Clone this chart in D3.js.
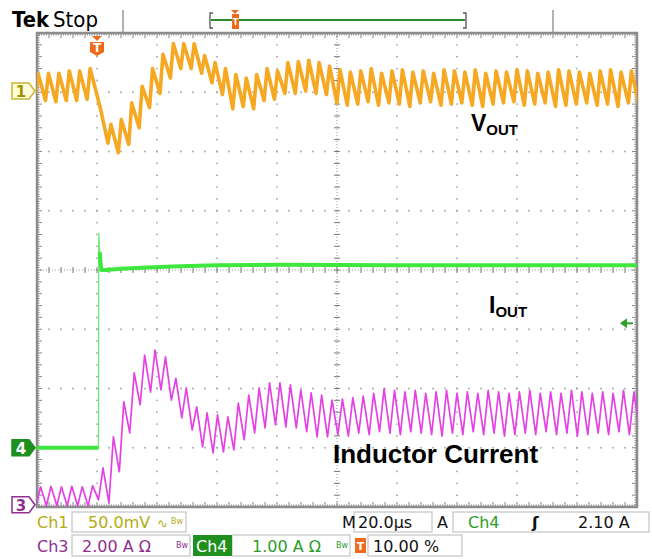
<!DOCTYPE html>
<html lang="en">
<head>
<meta charset="UTF-8">
<script src="https://d3js.org/d3.v7.min.js"></script>
<title>Load step - scope capture</title>
<style>
  body { margin: 0; background: #fff; }
  svg { display: block; }
</style>
</head>
<body>
<div id="scope"></div>
<script>
// Vout ripple, one entry per switching cycle (mV from the ch1 marker)
var vPeriod = 3.47;   // us
var vFirstPeak = -2.3 - 6 * 3.47;
var vPeak = [15,15,15,15,17,17,19,-15,-28,-24,-10,4,19,31,40,40,40,30,24,19,14,11,14,19,17,24,25,26,24,21,
             18,16,17,19,15,17,18,16,17,15,18,17,16,18,15,17,16,18,17,15,16,18,17,16,15,17,18,16,17,16];
var vTrough = [-8,-8,-8,-9,-8,-8,-7,-5,-44,-52,-45,-31,-14,-2,11,19,19,15,7,-3,-15,-13,-15,-8,-7,-2,-2,0,-2,-3,
               -10,-12,-11,-9,-12,-10,-11,-13,-10,-9,-12,-11,-10,-12,-13,-11,-10,-9,-12,-11,-10,-13,-12,-11,-10,-12,-11,-13,-10,-11];

// inductor current, per cycle (A)
var iFirstPeak = 2.0 - 7 * 3.47;
var iPeak = [0.64,0.64,0.66,0.64,0.66,0.64,0.68,1.28,2.33,3.51,4.49,5.09,5.26,5.03,4.3,3.98,3.34,3.14,3.07,3.0,3.47,3.74,3.98,4.15,4.15,4.08,3.91,3.81,3.74,3.57,
             3.6,3.65,3.7,3.8,3.95,3.9,3.85,3.9,3.8,3.85,3.9,3.8,3.85,3.8,3.9,3.85,3.8,3.85,3.9,3.8,3.85,3.8,3.9,3.85,3.8,3.85,3.8,3.9,3.85,3.8];
var iTrough = [0,0,0,0,0,0,0,0.2,0.1,1.15,2.46,3.41,3.84,3.91,3.57,2.97,2.56,1.99,1.79,1.82,1.89,2.23,2.46,2.63,2.73,2.66,2.63,2.5,2.33,2.33,
               2.4,2.35,2.45,2.4,2.5,2.45,2.4,2.5,2.45,2.4,2.35,2.45,2.4,2.5,2.4,2.45,2.35,2.4,2.45,2.4,2.5,2.4,2.45,2.35,2.4,2.45,2.4,2.5,2.4,2.45];

// output current (A) at given times (us)
var ioutT = [-20, 0.5, 0.6, 0.9, 1.4, 3, 8, 15, 25, 40, 60, 100, 140, 180];
var ioutA = [0, 0, 3.63, 3.3, 3.0, 3.0, 3.02, 3.04, 3.06, 3.08, 3.09, 3.08, 3.08, 3.08];

// channel settings
var ch1Pos = 3.02, ch1Scale = 50;   // div, mV/div
var ch3Pos = -3.98, ch3Scale = 2;   // A/div
var ch4Pos = -3.0, ch4Scale = 1;    // A/div
var trigLevel = 2.10;

var W = 652, H = 559;
var pL = 37, pR = 637, pT = 33, pB = 507;

var svg = d3.select("#scope").append("svg")
    .attr("width", W).attr("height", H)
    .style("font-family", "'DejaVu Sans', sans-serif");

var x = d3.scaleLinear().domain([-20, 180]).range([pL, pR]);
var y = d3.scaleLinear().domain([-4, 4]).range([pB, pT]);
var xd = d3.scaleLinear().domain([0, 10]).range([pL, pR]); // divisions

// ---- graticule ----
var grid = svg.append("g");
var dots = [];
for (var i = 1; i < 10; i++) {
    if (i == 5) continue;
    for (var m = 0; m <= 40; m++) dots.push([xd(i), y(-4 + m * 0.2)]);
}
for (var j = -3; j <= 3; j++) {
    if (j == 0) continue;
    for (var m = 0; m <= 50; m++) dots.push([xd(m * 0.2), y(j)]);
}
grid.selectAll("circle.g").data(dots).join("circle")
    .attr("cx", function(d){return d[0]}).attr("cy", function(d){return d[1]})
    .attr("r", 0.9).attr("fill", "#a4a4a4");

// center cross with ticks
grid.append("line").attr("x1", pL).attr("x2", pR).attr("y1", y(0)).attr("y2", y(0))
    .attr("stroke", "#999").attr("stroke-width", 1).attr("stroke-dasharray", "1,2");
grid.append("line").attr("x1", xd(5)).attr("x2", xd(5)).attr("y1", pT).attr("y2", pB)
    .attr("stroke", "#999").attr("stroke-width", 1).attr("stroke-dasharray", "1,2");
var cx = d3.range(0, 50.5, 1).map(function(m){return xd(m * 0.2)});
var cy = d3.range(0, 40.5, 1).map(function(m){return y(-4 + m * 0.2)});
grid.selectAll("line.ch").data(cx).join("line").attr("class", "ch")
    .attr("x1", function(d){return d}).attr("x2", function(d){return d})
    .attr("y1", y(0) - 3).attr("y2", y(0) + 3).attr("stroke", "#777").attr("stroke-width", 1);
grid.selectAll("line.cv").data(cy).join("line").attr("class", "cv")
    .attr("y1", function(d){return d}).attr("y2", function(d){return d})
    .attr("x1", xd(5) - 3).attr("x2", xd(5) + 3).attr("stroke", "#777").attr("stroke-width", 1);

// border ruler ticks
var fx = d3.range(0, 250.5, 1).map(function(m){return xd(m * 0.04)});
var fy = d3.range(0, 200.5, 1).map(function(m){return y(-4 + m * 0.04)});
grid.selectAll("line.tt").data(fx).join("line").attr("class", "tt")
    .attr("x1", function(d){return d}).attr("x2", function(d){return d})
    .attr("y1", pT).attr("y2", function(d,i){return pT + (i % 5 == 0 ? 5 : 2.5)})
    .attr("stroke", "#666").attr("stroke-width", 0.8);
grid.selectAll("line.tb").data(fx).join("line").attr("class", "tb")
    .attr("x1", function(d){return d}).attr("x2", function(d){return d})
    .attr("y1", pB).attr("y2", function(d,i){return pB - (i % 5 == 0 ? 5 : 2.5)})
    .attr("stroke", "#666").attr("stroke-width", 0.8);
grid.selectAll("line.tl").data(fy).join("line").attr("class", "tl")
    .attr("y1", function(d){return d}).attr("y2", function(d){return d})
    .attr("x1", pL).attr("x2", function(d,i){return pL + (i % 5 == 0 ? 5 : 2.5)})
    .attr("stroke", "#666").attr("stroke-width", 0.8);
grid.selectAll("line.tr").data(fy).join("line").attr("class", "tr")
    .attr("y1", function(d){return d}).attr("y2", function(d){return d})
    .attr("x1", pR).attr("x2", function(d,i){return pR - (i % 5 == 0 ? 5 : 2.5)})
    .attr("stroke", "#666").attr("stroke-width", 0.8);
grid.append("rect").attr("x", pL).attr("y", pT).attr("width", pR - pL).attr("height", pB - pT)
    .attr("fill", "none").attr("stroke", "#8c8c8c").attr("stroke-width", 2.5);

// ---- traces ----
svg.append("clipPath").attr("id", "plot").append("rect")
    .attr("x", pL).attr("y", pT).attr("width", pR - pL).attr("height", pB - pT);
var traces = svg.append("g").attr("clip-path", "url(#plot)");

function cycles(first, peaks, troughs, riseTime) {
    var pts = [];
    peaks.forEach(function(p, k) {
        var tp = first + k * vPeriod;
        pts.push([tp - riseTime, troughs[k]]);
        pts.push([tp, p]);
    });
    return pts;
}

var vPts = cycles(vFirstPeak, vPeak, vTrough, 1.0);
var iPts = cycles(iFirstPeak, iPeak, iTrough, 1.5);
var oPts = ioutT.map(function(t, k){return [t, ioutA[k]]});

// Iout (ch4): thin step edge, thick noisy trace elsewhere
var oLine = d3.line().x(function(d){return x(d[0])}).y(function(d){return y(ch4Pos + d[1] / ch4Scale)});
traces.append("path").datum(oPts).attr("d", oLine)
    .attr("fill", "none").attr("stroke", "#6cec6c").attr("stroke-width", 1.3);
[oPts.slice(0, 2), oPts.slice(3)].forEach(function(seg){
    traces.append("path").datum(seg).attr("d", oLine)
        .attr("fill", "none").attr("stroke", "#3ee63e").attr("stroke-width", 4).attr("stroke-linejoin", "round");
});

// inductor current (ch3)
traces.append("path").datum(iPts)
    .attr("d", d3.line().x(function(d){return x(d[0])}).y(function(d){return y(ch3Pos + d[1] / ch3Scale)}))
    .attr("fill", "none").attr("stroke", "#e442e4").attr("stroke-width", 1.7).attr("stroke-linejoin", "round");

// Vout (ch1)
traces.append("path").datum(vPts)
    .attr("d", d3.line().x(function(d){return x(d[0])}).y(function(d){return y(ch1Pos + d[1] / ch1Scale)}))
    .attr("fill", "none").attr("stroke", "#f7a823").attr("stroke-width", 3.6).attr("stroke-linejoin", "round");

// ---- trace labels ----
var lab = svg.append("g").attr("font-family", "Arial, 'Liberation Sans', sans-serif").attr("font-weight", "bold").attr("fill", "#000");
var tv = lab.append("text").attr("x", 471).attr("y", 131).attr("font-size", 23);
tv.append("tspan").text("V");
tv.append("tspan").attr("font-size", 15).attr("dy", 4).text("OUT");
var ti = lab.append("text").attr("x", 489).attr("y", 313).attr("font-size", 23);
ti.append("tspan").text("I");
ti.append("tspan").attr("font-size", 15).attr("dy", 4).text("OUT");
lab.append("text").attr("x", 333).attr("y", 463).attr("font-size", 26).text("Inductor Current");

// ---- channel markers ----
function marker(yc, fill, stroke, txt, txtFill) {
    var g = svg.append("g");
    g.append("path")
        .attr("d", "M12," + (yc - 8) + "H29L35," + yc + "L29," + (yc + 8) + "H12Z")
        .attr("fill", fill).attr("stroke", stroke).attr("stroke-width", 1.5);
    g.append("text").attr("x", 21).attr("y", yc + 6).attr("text-anchor", "middle")
        .attr("font-size", 15).attr("font-weight", "bold").attr("fill", txtFill).text(txt);
}
marker(y(ch1Pos), "#ffffd8", "#c9b733", "1", "#9c9400");
marker(y(ch4Pos), "#1f8f1f", "#1f8f1f", "4", "#fff");
marker(y(ch3Pos) - 1, "#fff", "#8e2e8e", "3", "#8e2e8e");

// trigger level arrow (ch4, right edge)
var ty = y(ch4Pos + trigLevel / ch4Scale);
svg.append("path").attr("d", "M620," + ty + "L627," + (ty - 5) + "V" + (ty + 5) + "Z").attr("fill", "#2e9e2e");
svg.append("line").attr("x1", 626).attr("x2", 633).attr("y1", ty).attr("y2", ty).attr("stroke", "#2e9e2e").attr("stroke-width", 2);

// trigger position marker
function trigT(xc, yTop, s) {
    var g = svg.append("g");
    g.append("path").attr("d", "M" + (xc - 5 * s) + "," + yTop + "H" + (xc + 5 * s) + "L" + xc + "," + (yTop + 5 * s) + "Z").attr("fill", "#f06a1e");
    g.append("path").attr("d", "M" + (xc - 7 * s) + "," + (yTop + 6 * s) + "H" + (xc + 7 * s) + "V" + (yTop + 16 * s) + "L" + xc + "," + (yTop + 20 * s) + "L" + (xc - 7 * s) + "," + (yTop + 16 * s) + "Z").attr("fill", "#f06a1e");
    g.append("text").attr("x", xc).attr("y", yTop + 16 * s).attr("text-anchor", "middle")
        .attr("font-size", 12 * s).attr("font-weight", "bold").attr("fill", "#fff").text("T");
}
trigT(x(0), 36, 1);

// ---- header ----
svg.append("text").attr("x", 12).attr("y", 27).attr("font-size", 22).attr("font-weight", "bold")
    .attr("textLength", 37).attr("lengthAdjust", "spacingAndGlyphs").text("Tek");
svg.append("text").attr("x", 53).attr("y", 27).attr("font-size", 21)
    .attr("textLength", 45).attr("lengthAdjust", "spacingAndGlyphs").text("Stop");
[123, 553].forEach(function(sx){
    svg.append("line").attr("x1", sx).attr("x2", sx).attr("y1", 10).attr("y2", 32).attr("stroke", "#999").attr("stroke-width", 1.5);
});
svg.append("line").attr("x1", 211).attr("x2", 465).attr("y1", 20).attr("y2", 20).attr("stroke", "#2e8b2e").attr("stroke-width", 2.2);
svg.append("path").attr("d", "M213,13H210V28H213M463,13H466V28H463").attr("fill", "none").attr("stroke", "#555").attr("stroke-width", 1.3);
svg.append("path").attr("d", "M231,10H239L235,14Z").attr("fill", "#f06a1e");
svg.append("rect").attr("x", 232).attr("y", 14).attr("width", 7).attr("height", 15).attr("fill", "#f06a1e");
svg.append("text").attr("x", 235.5).attr("y", 25).attr("text-anchor", "middle").attr("font-size", 8).attr("font-weight", "bold").attr("fill", "#fff").text("T");

// ---- readout rows ----
var ro = svg.append("g").attr("font-size", 16);
function box(bx, by, bw, bh) {
    ro.append("rect").attr("x", bx).attr("y", by).attr("width", bw).attr("height", bh)
        .attr("fill", "none").attr("stroke", "#c4c4c4").attr("stroke-width", 1.2);
}
function txt(tx, ty, s, col, extra) {
    var t = ro.append("text").attr("x", tx).attr("y", ty).attr("fill", col).text(s);
    if (extra) extra(t);
    return t;
}
var olive = "#b3ad12", purple = "#8e2e8e", green = "#2a9d2a";
box(72, 512, 114, 20);
box(354, 512, 78, 20);
box(453, 512, 196, 20);
txt(37, 528, "Ch1", olive);
txt(88, 528, "50.0mV", olive);
txt(157, 528, "∿", olive, function(t){t.attr("font-size", 13)});
txt(171, 524, "Bw", olive, function(t){t.attr("font-size", 8)});
txt(342, 528, "M", "#111");
txt(358, 528, "20.0µs", "#111");
txt(437, 528, "A", "#111");
txt(468, 528, "Ch4", green);
txt(532, 528, "ʃ", "#111", function(t){t.attr("font-weight", "bold")});
txt(578, 528, "2.10 A", "#111");

box(72, 535, 118, 21);
box(232, 535, 118, 21);
box(368, 535, 94, 21);
txt(37, 552, "Ch3", purple);
txt(82, 552, "2.00 A Ω", purple);
txt(176, 548, "Bw", purple, function(t){t.attr("font-size", 8)});
ro.append("rect").attr("x", 193).attr("y", 535).attr("width", 39).attr("height", 21).attr("fill", "#1f8f1f");
txt(196, 552, "Ch4", "#fff");
txt(252, 552, "1.00 A Ω", green);
txt(336, 548, "Bw", green, function(t){t.attr("font-size", 8)});
ro.append("rect").attr("x", 355).attr("y", 538).attr("width", 11).attr("height", 15).attr("fill", "#f06a1e");
txt(360.5, 550, "T", "#fff", function(t){t.attr("font-size", 11).attr("font-weight", "bold").attr("text-anchor", "middle")});
txt(373, 552, "10.00 %", "#111");
</script>
</body>
</html>
